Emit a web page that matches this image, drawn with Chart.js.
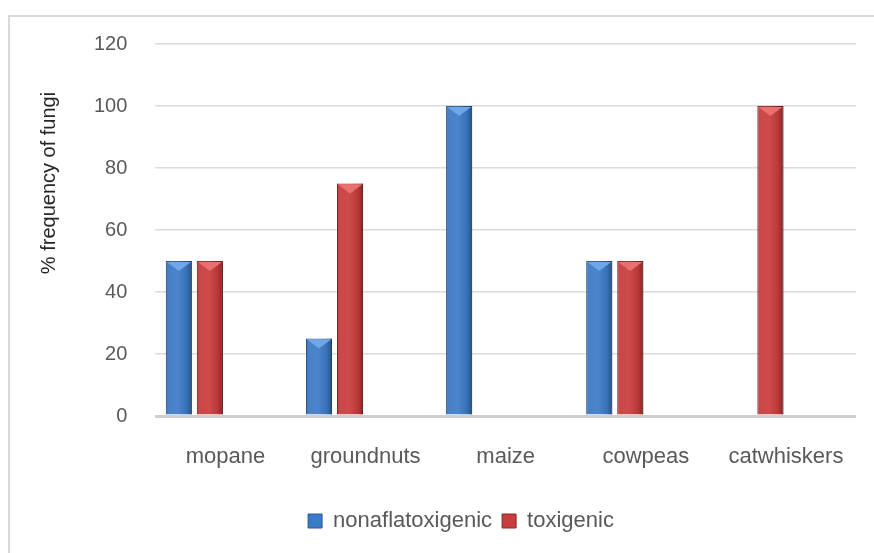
<!DOCTYPE html>
<html>
<head>
<meta charset="utf-8">
<script src="https://cdn.jsdelivr.net/npm/chart.js@4.4.0/dist/chart.umd.min.js"></script>
<style>
  html, body { margin: 0; padding: 0; background: #fff; }
  #wrap { width: 874px; height: 553px; }
</style>
</head>
<body>
<div id="wrap"><canvas id="myChart"></canvas></div>
<script>
// data
var crops = ["mopane", "groundnuts", "maize", "cowpeas", "catwhiskers"];
var nonaflatoxigenic = [50, 25, 100, 50, 0];
var toxigenic = [50, 75, 0, 50, 100];
// the original groups sit left of the label, as if two more (empty) series were there
var emptySeries = [null, null, null, null, null];
var yTicks = [0, 20, 40, 60, 80, 100, 120];
var yTitle = "% frequency of fungi";

var font = "'Liberation Sans', Arial, sans-serif";

// light grey frame round the whole picture (runs off the right/bottom edge)
var framePlugin = {
  id: "frame",
  beforeDraw: function (chart) {
    var c = chart.ctx;
    c.save();
    c.strokeStyle = "#D9D9D9";
    c.lineWidth = 2;
    c.strokeRect(9, 16, 1000, 1000);
    c.restore();
  }
};

// y title drawn by hand, the original sits above the axis middle
var titlePlugin = {
  id: "ytitle",
  afterDraw: function (chart) {
    var c = chart.ctx;
    c.save();
    c.translate(49, 183);
    c.rotate(-Math.PI / 2);
    c.font = "20px " + font;
    c.fillStyle = "#262626";
    c.textAlign = "center";
    c.textBaseline = "middle";
    c.fillText(yTitle, 0, 0);
    c.restore();
  }
};

// excel-ish shading on the bars
var shadePlugin = {
  id: "shade",
  afterDatasetsDraw: function (chart) {
    var c = chart.ctx;
    var tops = ["#6FA6E8", "#E87070"];
    [0, 1].forEach(function (di) {
      var meta = chart.getDatasetMeta(di);
      meta.data.forEach(function (el, i) {
        var v = chart.data.datasets[di].data[i];
        if (!v) return;
        var l = el.x - el.width / 2, r = el.x + el.width / 2;
        var t = el.y, b = el.base;
        c.save();
        var g = c.createLinearGradient(l, 0, r, 0);
        g.addColorStop(0, "rgba(0,0,0,0.18)");
        g.addColorStop(0.12, "rgba(255,255,255,0.06)");
        g.addColorStop(0.45, "rgba(255,255,255,0.08)");
        g.addColorStop(0.8, "rgba(0,0,0,0.08)");
        g.addColorStop(1, "rgba(0,0,0,0.35)");
        c.fillStyle = g;
        c.fillRect(l, t, r - l, b - t);
        c.fillStyle = tops[di];
        c.beginPath();
        c.moveTo(l + 1, t + 1);
        c.lineTo(r - 1, t + 1);
        c.lineTo(el.x, t + 10);
        c.closePath();
        c.fill();
        c.restore();
      });
    });
  }
};

var ctx = document.getElementById("myChart").getContext("2d");
var chart = new Chart(ctx, {
  type: "bar",
  data: {
    labels: crops,
    datasets: [{
      label: "nonaflatoxigenic",
      data: nonaflatoxigenic,
      backgroundColor: "#3B7AC6",
      borderColor: "#2A5A98",
      borderWidth: 1
    }, {
      label: "toxigenic",
      data: toxigenic,
      backgroundColor: "#C93C3C",
      borderColor: "#8E2626",
      borderWidth: 1
    }, {
      label: "",
      data: emptySeries
    }, {
      label: "",
      data: emptySeries
    }]
  },
  options: {
    responsive: true,
    maintainAspectRatio: false,
    animation: false,
    categoryPercentage: 0.886,
    barPercentage: 0.84,
    layout: { padding: { left: 66, right: 18, top: 44, bottom: 11 } },
    scales: {
      x: {
        grid: { display: false },
        border: { display: false },
        ticks: { color: "#595959", font: { family: font, size: 22 }, padding: 20 },
        afterFit: function (scale) { scale.height = 84; }
      },
      y: {
        min: 0,
        max: 120,
        afterBuildTicks: function (scale) {
          scale.ticks = yTicks.map(function (v) { return { value: v }; });
        },
        border: { display: false },
        grid: {
          drawTicks: false,
          color: function (c) { return c.tick && c.tick.value === 0 ? "#CFCFCF" : "#DCDCDC"; },
          lineWidth: function (c) { return c.tick && c.tick.value === 0 ? 3 : 1.5; }
        },
        ticks: { color: "#595959", font: { family: font, size: 20 }, padding: 28 }
      }
    },
    plugins: {
      legend: {
        position: "bottom",
        labels: {
          filter: function (item) { return item.text !== ""; },
          boxWidth: 14,
          boxHeight: 14,
          padding: 10,
          color: "#595959",
          font: { family: font, size: 22 }
        }
      },
      tooltip: { enabled: false }
    }
  },
  plugins: [framePlugin, titlePlugin, shadePlugin]
});
</script>
</body>
</html>
